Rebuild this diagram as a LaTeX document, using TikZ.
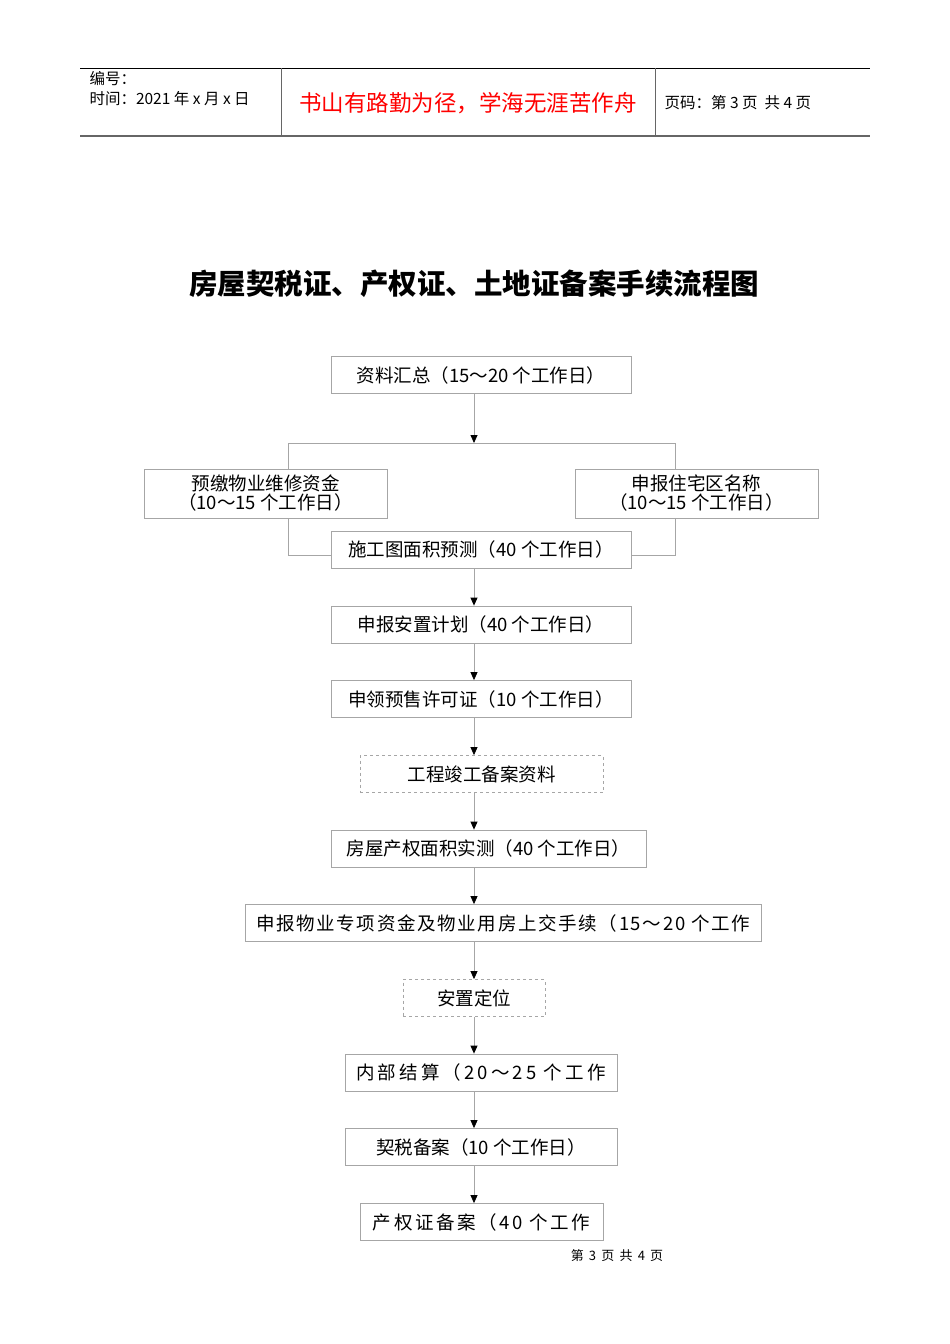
\documentclass[tikz,border=0pt]{standalone}
\usepackage{fontspec}
\setmainfont{Noto Sans CJK SC}
\usetikzlibrary{arrows.meta}
\tikzset{bx/.style={draw=black!35,line width=0.8pt,minimum height=37pt,font=\fontsize{18.5}{20}\selectfont,inner sep=0pt},
dbx/.style={bx,dashed},
ln/.style={draw=black!35,line width=0.8pt},
ar/.style={ln,-{Triangle[length=8pt,width=7pt,color=black]}}}
\begin{document}
\begin{tikzpicture}[x=1pt,y=-1pt]
\useasboundingbox (0,0) rectangle (950,1344);
\draw[line width=0.8pt] (80,68) -- (870,68);
\draw[line width=1.2pt,black!60] (80,136) -- (870,136);
\draw[line width=0.8pt,black!60] (281,68) -- (281,136) (655,68) -- (655,136);
\node[anchor=west,font=\fontsize{15.5}{16}\selectfont] (h1) at (86,79) {编号：};
\node[anchor=west,font=\fontsize{15.5}{16}\selectfont] (h2) at (86,99) {时间：2021 年 x 月 x 日};
\node[text=red,font=\fontsize{22.5}{24}\selectfont] (h3) at (468,103) {书山有路勤为径，学海无涯苦作舟};
\node[anchor=west,font=\fontsize{15.5}{16}\selectfont] (h4) at (661,103) {页码：第 3 页 \ 共 4 页};
\node[font=\fontsize{28.5}{30}\selectfont\bfseries] (t) at (474,284) {房屋契税证、产权证、土地证备案手续流程图};
\node[bx,minimum width=300pt] (b1) at (481,375) {资料汇总（15～20 个工作日）};
\node[bx,minimum width=243pt,minimum height=49pt,align=center,font=\fontsize{18.5}{19}\selectfont] (bl) at (265.5,493.5) {预缴物业维修资金\\（10～15 个工作日）};
\node[bx,minimum width=243pt,minimum height=49pt,align=center,font=\fontsize{18.5}{19}\selectfont] (br) at (696.5,493.5) {申报住宅区名称\\（10～15 个工作日）};
\node[bx,minimum width=300pt] (b2) at (481,549.5) {施工图面积预测（40 个工作日）};
\node[bx,minimum width=300pt] (b3) at (481,624.5) {申报安置计划（40 个工作日）};
\node[bx,minimum width=300pt] (b4) at (481,699) {申领预售许可证（10 个工作日）};
\node[dbx,minimum width=243pt] (b5) at (481.5,774) {工程竣工备案资料};
\node[bx,minimum width=315pt] (b6) at (488.5,848.5) {房屋产权面积实测（40 个工作日）};
\node[bx,minimum width=516pt,font=\fontsize{18.5}{20}\selectfont\addfontfeature{LetterSpace=9}] (b7) at (503,923) {申报物业专项资金及物业用房上交手续（15～20 个工作};
\node[dbx,minimum width=142pt] (b8) at (474,998) {安置定位};
\node[bx,minimum width=272pt,font=\fontsize{18.5}{20}\selectfont\addfontfeature{LetterSpace=17}] (b9) at (481,1072.5) {内部结算（20～25 个工作};
\node[bx,minimum width=272pt] (b10) at (481,1147) {契税备案（10 个工作日）};
\node[bx,minimum width=243pt,font=\fontsize{18.5}{20}\selectfont\addfontfeature{LetterSpace=14}] (b11) at (481.5,1222) {产权证备案（40 个工作};
\node[font=\fontsize{13}{14}\selectfont\addfontfeature{LetterSpace=40}] (ft) at (617,1256) {第3页共4页};
\coordinate (spt) at (474,443);
\draw[ar] (474,394) -- (spt);
\draw[ln] (bl.north -| 288,0) -- (288,443) -- (675,443) -- (br.north -| 675,0);
\draw[ln] (bl.south -| 288,0) -- (288,555) -- (b2.west |- 0,555);
\draw[ln] (br.south -| 675,0) -- (675,555) -- (b2.east |- 0,555);
\foreach \a/\b in {b2/b3,b3/b4,b4/b5,b5/b6,b6/b7,b7/b8,b8/b9,b9/b10,b10/b11}
  \draw[ar] (\a.south -| 474,0) -- (\b.north -| 474,0);
\end{tikzpicture}
\end{document}
